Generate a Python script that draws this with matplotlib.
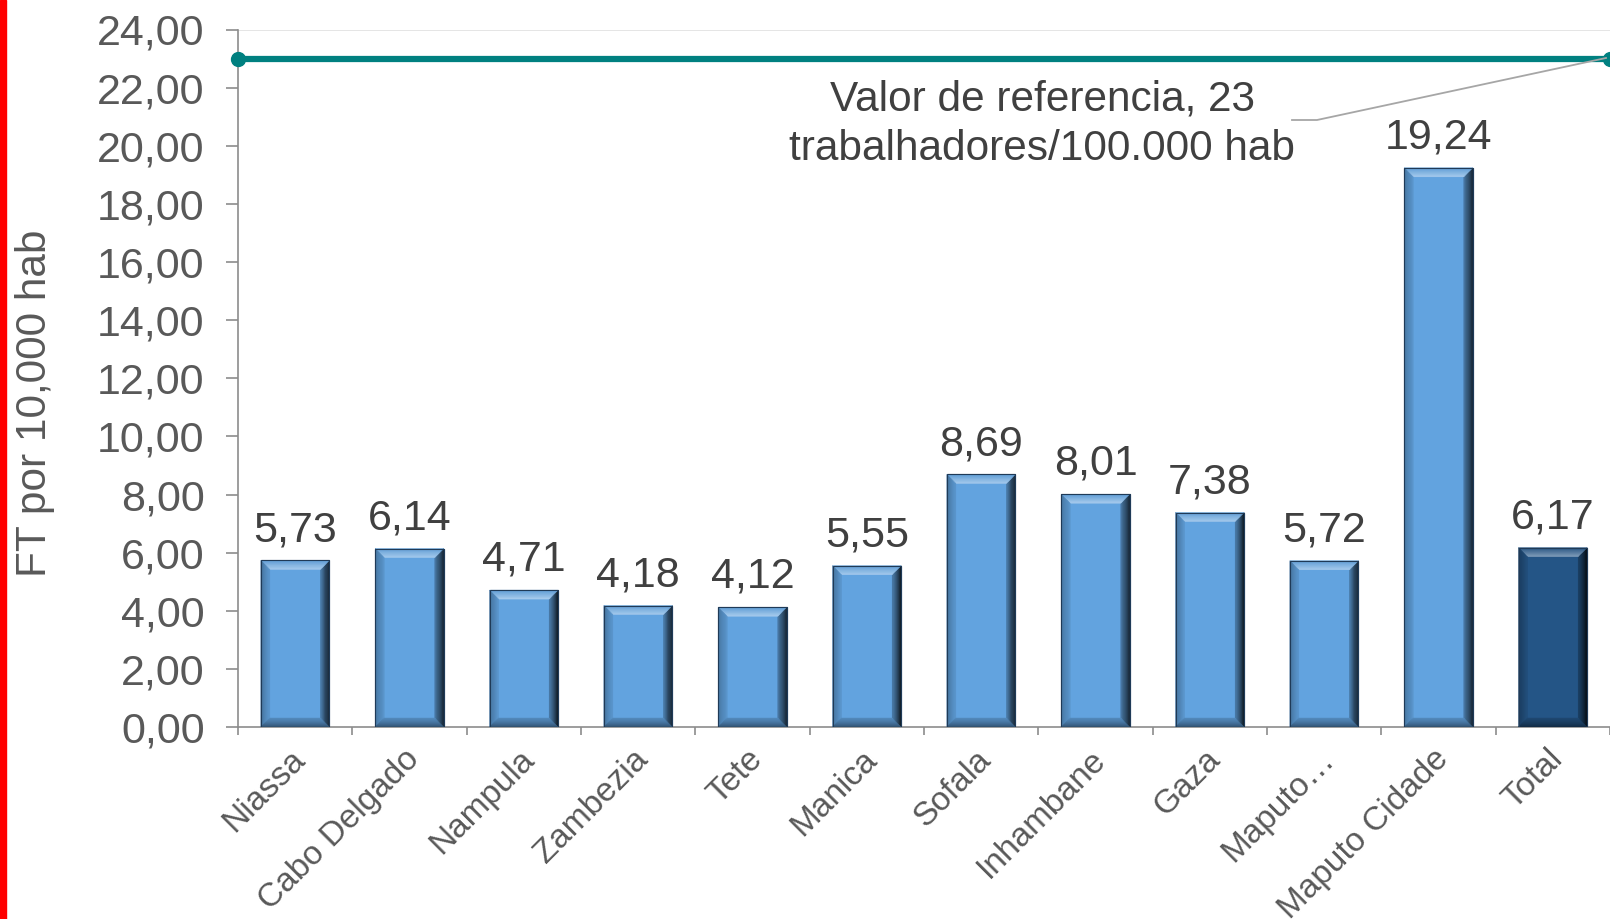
import matplotlib
matplotlib.use("Agg")
import matplotlib.pyplot as plt
import numpy as np
from matplotlib.patches import Polygon, Rectangle
from matplotlib.lines import Line2D
from matplotlib.colors import to_rgb

plt.rcParams['font.family'] = ['Liberation Sans', 'DejaVu Sans']

categories = ["Niassa", "Cabo Delgado", "Nampula", "Zambezia", "Tete", "Manica",
              "Sofala", "Inhambane", "Gaza", "Maputo…", "Maputo Cidade", "Total"]
values = [5.73, 6.14, 4.71, 4.18, 4.12, 5.55, 8.69, 8.01, 7.38, 5.72, 19.24, 6.17]
reference_value = 23
reference_text = "Valor de referencia, 23\ntrabalhadores/100.000 hab"
y_ticks = [0, 2, 4, 6, 8, 10, 12, 14, 16, 18, 20, 22, 24]
y_label = "FT por 10,000 hab"

W, H = 1610, 919
fig = plt.figure(figsize=(W / 100, H / 100), dpi=100)
ax_l, ax_r, ax_t, ax_b = 238, 1610, 29.5, 727
ax = fig.add_axes([ax_l / W, 1 - ax_b / H, (ax_r - ax_l) / W, (ax_b - ax_t) / H])

n = len(categories)
x = np.arange(n)
light = "#62a3df"
dark = "#245586"
face_colors = [light] * (n - 1) + [dark]

bars = ax.bar(x, values, width=0.6, color=face_colors, edgecolor="#2d4d6e",
              linewidth=0.8, zorder=2)

ax.set_xlim(-0.5, n - 0.5)
ax.set_ylim(0, 24)

# bevel effect
px_x = (ax_r - ax_l) / n
px_y = (ax_b - ax_t) / 24
bpx = 9
bx, by = bpx / px_x, bpx / px_y


def mix(c1, c2, t):
    a, b = np.array(to_rgb(c1)), np.array(to_rgb(c2))
    return tuple(a + (b - a) * t)


for rect, fc in zip(bars, face_colors):
    L = rect.get_x()
    R = L + rect.get_width()
    B = 0
    T = rect.get_height()
    ns = 8
    for i in range(ns):
        t0, t1 = i / ns, (i + 1) / ns
        tm = (t0 + t1) / 2
        cr = mix(mix(fc, "black", 0.85), mix(fc, "black", 0.25), tm)
        ax.add_patch(Polygon([(R - t0 * bx, B + t0 * by), (R - t0 * bx, T - t0 * by),
                              (R - t1 * bx, T - t1 * by), (R - t1 * bx, B + t1 * by)],
                             closed=True, facecolor=cr, edgecolor=cr, lw=0.3, zorder=3))
        ct = mix(mix(fc, "black", 0.05), mix(fc, "white", 0.45), tm)
        ax.add_patch(Polygon([(L + t0 * bx, T - t0 * by), (R - t0 * bx, T - t0 * by),
                              (R - t1 * bx, T - t1 * by), (L + t1 * bx, T - t1 * by)],
                             closed=True, facecolor=ct, edgecolor=ct, lw=0.3, zorder=3))
        cl = mix(mix(fc, "black", 0.3), mix(fc, "black", 0.08), tm)
        ax.add_patch(Polygon([(L + t0 * bx, B + t0 * by), (L + t0 * bx, T - t0 * by),
                              (L + t1 * bx, T - t1 * by), (L + t1 * bx, B + t1 * by)],
                             closed=True, facecolor=cl, edgecolor=cl, lw=0.3, zorder=3))
        cb = mix(mix(fc, "black", 0.5), mix(fc, "black", 0.15), tm)
        ax.add_patch(Polygon([(L + t0 * bx, B + t0 * by), (R - t0 * bx, B + t0 * by),
                              (R - t1 * bx, B + t1 * by), (L + t1 * bx, B + t1 * by)],
                             closed=True, facecolor=cb, edgecolor=cb, lw=0.3, zorder=3))
    ax.add_patch(Rectangle((L, B), R - L, T, fill=False, edgecolor="#1f3a57", lw=0.8, zorder=4))

# data labels
for xi, v in zip(x, values):
    ax.annotate(f"{v:.2f}".replace(".", ","), (xi, v), xytext=(0, 14),
                textcoords="offset points", ha="center", va="baseline",
                fontsize=31, color="#404040", zorder=5)

# reference line
ax.plot([-0.5, n - 0.5], [reference_value, reference_value], color="#008080", lw=4.5,
        marker="o", markersize=10, clip_on=False, zorder=6)
ax.axhline(24, color="#e0e0e0", lw=1.2, zorder=1)

# spines and ticks
for s in ["top", "right"]:
    ax.spines[s].set_visible(False)
for s in ["left", "bottom"]:
    ax.spines[s].set_color("#8c8c8c")
    ax.spines[s].set_linewidth(1.2)

ax.set_yticks(y_ticks)
ax.set_yticklabels([f"{t:.2f}".replace(".", ",") for t in y_ticks])
ax.tick_params(axis="y", length=9, width=1.2, color="#8c8c8c", labelsize=31,
               labelcolor="#595959", pad=15)
ax.set_xticks(x)
ax.set_xticklabels(categories, rotation=45, ha="right", va="center",
                   rotation_mode="anchor", fontsize=24, color="#595959")
ax.tick_params(axis="x", length=0, pad=20)
ax.set_xticks(np.arange(-0.5, n, 1.0), minor=True)
ax.tick_params(axis="x", which="minor", length=6, width=1.2, color="#8c8c8c")

for lbl in ax.get_xticklabels():
    lbl.set_transform(lbl.get_transform() + matplotlib.transforms.ScaledTranslation(4 / 72, 0, fig.dpi_scale_trans))

# y label
fig.text(35 / W, 1 - 403 / H, y_label, rotation=90, ha="center", va="center",
         fontsize=30.5, color="#595959")

# reference annotation
fig.text(1042 / W, 1 - 124 / H, reference_text, ha="center", va="center",
         fontsize=30.5, color="#404040", linespacing=1.32)
fig.add_artist(Line2D([1292 / W, 1317 / W, 1606 / W], [1 - 120 / H, 1 - 120 / H, 1 - 58 / H],
                      color="#a6a6a6", lw=1.3))

# red border
fig.add_artist(Rectangle((0, 0), 6 / W, 1, transform=fig.transFigure, color="#ff0000"))

fig.savefig("out.png", dpi=100)
